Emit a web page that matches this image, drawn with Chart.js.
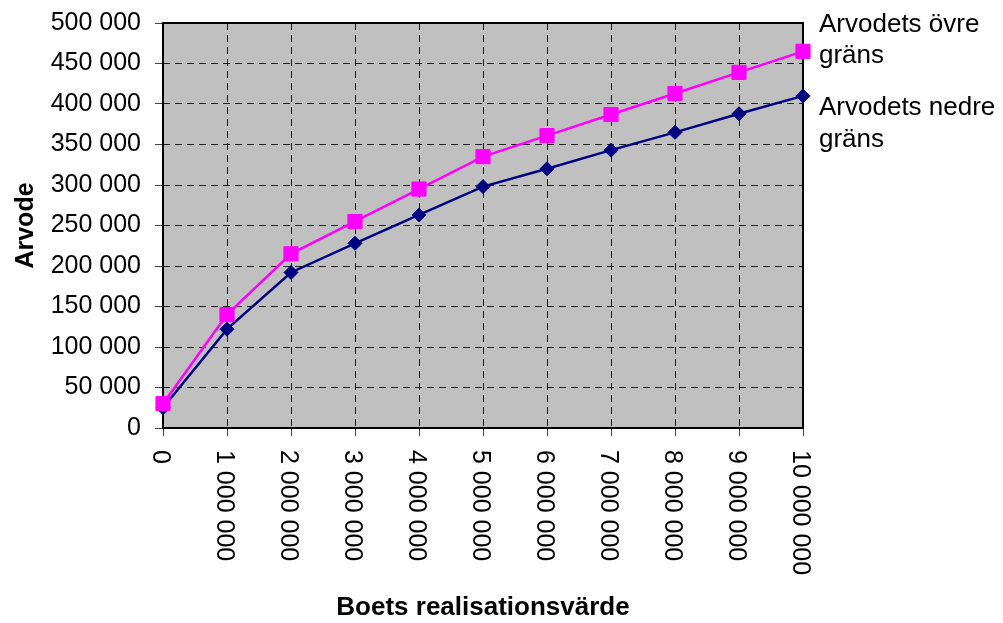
<!DOCTYPE html>
<html>
<head>
<meta charset="utf-8">
<script src="https://cdn.jsdelivr.net/npm/chart.js@4/dist/chart.umd.min.js"></script>
<style>
  html, body { margin: 0; padding: 0; background: #ffffff; }
  #wrap { width: 1003px; height: 623px; }
</style>
</head>
<body>
<div id="wrap"><canvas id="c" width="1003" height="623"></canvas></div>
<script>
// Realisation value of the estate (SEK)
const realisationValues = [0, 1000000, 2000000, 3000000, 4000000, 5000000, 6000000, 7000000, 8000000, 9000000, 10000000];
// Fee, upper and lower limit (SEK)
const upperFee = [30000, 140000, 215000, 255000, 295000, 335000, 361000, 387000, 413000, 439000, 465000];
const lowerFee = [25000, 122000, 192000, 228000, 263000, 298000, 320000, 343000, 365000, 388000, 410000];
const seriesNames = [['Arvodets övre', 'gräns'], ['Arvodets nedre', 'gräns']];
const xTickLabels = ['0', '1 000 000', '2 000 000', '3 000 000', '4 000 000', '5 000 000', '6 000 000', '7 000 000', '8 000 000', '9 000 000', '10 000 000'];
const yTickLabels = ['0', '50 000', '100 000', '150 000', '200 000', '250 000', '300 000', '350 000', '400 000', '450 000', '500 000'];
const xTitle = 'Boets realisationsvärde';
const yTitle = 'Arvode';

const FONT = '"Liberation Sans", Arial, sans-serif';

const toPoints = (xs, ys) => xs.map((x, i) => ({ x: x, y: ys[i] }));

// Grey plot background
const plotBackground = {
  id: 'plotBackground',
  beforeDraw(chart) {
    const { ctx, chartArea: a } = chart;
    ctx.save();
    ctx.fillStyle = '#c0c0c0';
    ctx.fillRect(a.left, a.top, a.right - a.left, a.bottom - a.top);
    ctx.restore();
  }
};

// Solid frame round the plot area, under the markers
const plotFrame = {
  id: 'plotFrame',
  beforeDatasetsDraw(chart) {
    const { ctx, chartArea: a } = chart;
    ctx.save();
    ctx.strokeStyle = '#000000';
    ctx.lineWidth = 2;
    ctx.strokeRect(a.left, a.top, a.right - a.left, a.bottom - a.top);
    ctx.restore();
  }
};

// Vertical category labels under the x axis, reading top to bottom
const verticalXLabels = {
  id: 'verticalXLabels',
  afterDraw(chart) {
    const { ctx } = chart;
    const xs = chart.scales.x;
    ctx.save();
    ctx.fillStyle = '#000000';
    ctx.font = '25px ' + FONT;
    ctx.textAlign = 'left';
    ctx.textBaseline = 'middle';
    realisationValues.forEach((v, i) => {
      const px = xs.getPixelForValue(v);
      ctx.save();
      ctx.translate(px - 3, chart.chartArea.bottom + 22);
      ctx.rotate(Math.PI / 2);
      ctx.fillText(xTickLabels[i], 0, 0);
      ctx.restore();
    });
    ctx.restore();
  }
};

// Series names to the right of the plot
const sideLegend = {
  id: 'sideLegend',
  afterDraw(chart) {
    const { ctx } = chart;
    const left = chart.chartArea.right + 16;
    const baselines = [[32, 63], [115, 147]];
    ctx.save();
    ctx.fillStyle = '#000000';
    ctx.font = '26px ' + FONT;
    ctx.textAlign = 'left';
    ctx.textBaseline = 'alphabetic';
    seriesNames.forEach((lines, i) => {
      lines.forEach((t, j) => ctx.fillText(t, left, baselines[i][j]));
    });
    ctx.restore();
  }
};

new Chart(document.getElementById('c'), {
  type: 'line',
  data: {
    datasets: [
      {
        label: seriesNames[0].join(' '),
        data: toPoints(realisationValues, upperFee),
        borderColor: '#ff00ff',
        backgroundColor: '#ff00ff',
        borderWidth: 2.5,
        pointStyle: 'rect',
        pointRadius: 10,
        pointBorderWidth: 1,
        pointBorderColor: '#ff00ff',
        pointBackgroundColor: '#ff00ff',
        tension: 0,
        clip: false
      },
      {
        label: seriesNames[1].join(' '),
        data: toPoints(realisationValues, lowerFee),
        borderColor: '#000080',
        backgroundColor: '#000080',
        borderWidth: 2.5,
        pointStyle: 'rectRot',
        pointRadius: 7,
        pointBorderWidth: 1,
        pointBorderColor: '#000080',
        pointBackgroundColor: '#000080',
        tension: 0,
        clip: false
      }
    ]
  },
  options: {
    responsive: false,
    animation: false,
    layout: { autoPadding: false, padding: { left: 0, top: 23, right: 200, bottom: 0 } },
    plugins: {
      legend: { display: false },
      tooltip: { enabled: false }
    },
    scales: {
      x: {
        type: 'linear',
        min: 0,
        max: 10000000,
        ticks: { display: false, stepSize: 1000000 },
        grid: {
          color: 'rgba(0,0,0,0.85)',
          lineWidth: 1,
          drawTicks: true,
          tickLength: 8,
          tickColor: '#404040',
          tickWidth: 1,
          tickBorderDash: []
        },
        border: { display: false, dash: [7, 5] },
        title: {
          display: true,
          text: xTitle,
          color: '#000000',
          font: { family: FONT, size: 26, weight: 'bold' },
          padding: { top: 0, bottom: 0 }
        },
        afterFit(scale) { scale.height = 195; }
      },
      y: {
        type: 'linear',
        min: 0,
        max: 500000,
        ticks: {
          stepSize: 50000,
          color: '#000000',
          padding: 14,
          font: { family: FONT, size: 25 },
          callback: (value, index) => yTickLabels[index]
        },
        grid: {
          color: 'rgba(0,0,0,0.85)',
          lineWidth: 1,
          drawTicks: true,
          tickLength: 8,
          tickColor: '#404040',
          tickWidth: 1,
          tickBorderDash: []
        },
        border: { display: false, dash: [7, 5] },
        title: {
          display: true,
          text: yTitle,
          color: '#000000',
          font: { family: FONT, size: 25, weight: 'bold' },
          padding: { top: 11, bottom: 0 }
        },
        afterFit(scale) {
          scale.width = 163;
          scale.paddingTop = 0;
          scale.paddingBottom = 0;
        }
      }
    }
  },
  plugins: [plotBackground, plotFrame, verticalXLabels, sideLegend]
});
</script>
</body>
</html>
